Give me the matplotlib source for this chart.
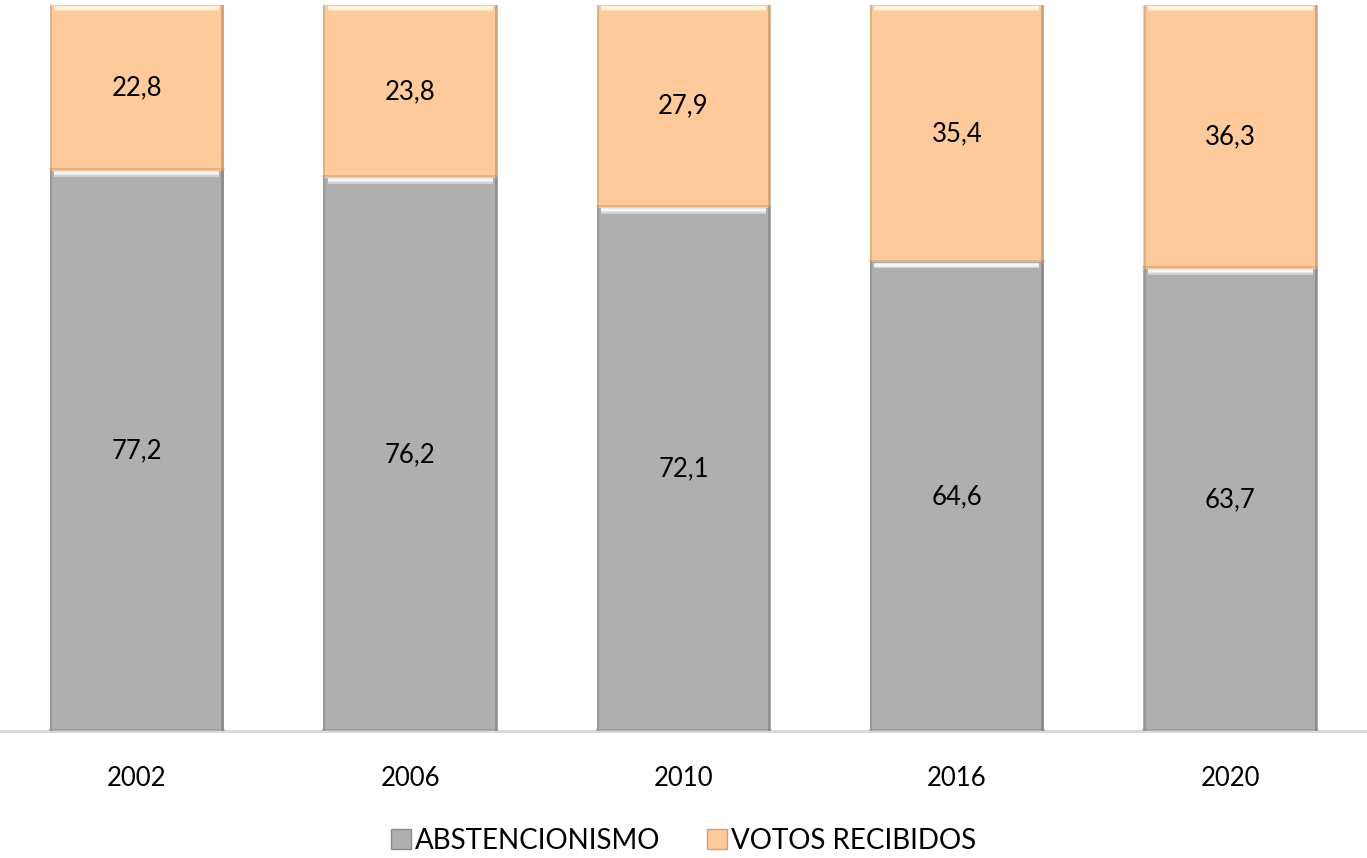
"""
Participación electoral: abstencionismo vs votos recibidos (barras apiladas al 100 %).
"""

import numpy as np
import matplotlib.pyplot as plt
from matplotlib.patches import Patch

# Datos
years = ["2002", "2006", "2010", "2016", "2020"]
abstencionismo = [77.2, 76.2, 72.1, 64.6, 63.7]
votos_recibidos = [22.8, 23.8, 27.9, 35.4, 36.3]

series_names = ["ABSTENCIONISMO", "VOTOS RECIBIDOS"]

GRAY = "#AFAFAF"
ORANGE = "#FEC99B"

plt.rcParams["font.family"] = ["Lato", "DejaVu Sans"]

fig = plt.figure(figsize=(13.67, 8.58), dpi=100)
ax = fig.add_axes([0.0, 1 - 731 / 858, 1.0, 726 / 858])

x = np.arange(len(years))
width = 0.635

bars_a = ax.bar(x, abstencionismo, width, color=GRAY, edgecolor="none", zorder=2)
bars_v = ax.bar(x, votos_recibidos, width, bottom=abstencionismo,
                color=ORANGE, edgecolor="none", zorder=2)


def bevel(bars, light, dark):
    # Imitación del bisel de Excel: brillo arriba, sombra a los lados y abajo
    for b in bars:
        x0, x1 = b.get_x(), b.get_x() + b.get_width()
        y0, y1 = b.get_y(), b.get_y() + b.get_height()
        inset = b.get_width() * 0.025
        ax.plot([x0 + inset, x1 - inset], [y1 - 0.35, y1 - 0.35],
                color=light, lw=2.6, solid_capstyle="butt", zorder=3)
        ax.plot([x0 + inset, x1 - inset], [y1 - 0.75, y1 - 0.75],
                color=light, lw=1.4, alpha=0.5, solid_capstyle="butt", zorder=3)
        ax.plot([x0 + 0.004, x0 + 0.004], [y0, y1], color=dark, lw=1.4,
                alpha=0.45, zorder=3)
        ax.plot([x1 - 0.005, x1 - 0.005], [y0, y1], color=dark, lw=2.0,
                alpha=0.7, zorder=3)
        ax.plot([x0, x1], [y0 + 0.2, y0 + 0.2], color=dark, lw=1.2,
                alpha=0.5, zorder=3)


bevel(bars_a, "#F6F6F6", "#7E7E7E")
bevel(bars_v, "#FFF5DC", "#B89372")

# Etiquetas de datos (coma decimal)
for xi, a, v in zip(x, abstencionismo, votos_recibidos):
    ax.text(xi, a / 2, f"{a:.1f}".replace(".", ","), ha="center", va="center",
            fontsize=18.5, color="black", zorder=4)
    ax.text(xi, a + v / 2, f"{v:.1f}".replace(".", ","), ha="center", va="center",
            fontsize=18.5, color="black", zorder=4)

ax.set_xlim(-0.5, len(years) - 0.5)
ax.set_ylim(0, 100)
ax.set_xticks(x)
ax.set_xticklabels(years, fontsize=18.5)
ax.tick_params(axis="x", length=0, pad=25)
ax.set_yticks([])

for side in ["left", "right", "top"]:
    ax.spines[side].set_visible(False)
ax.spines["bottom"].set_color("#D9D9D9")
ax.spines["bottom"].set_linewidth(2.2)
ax.set_facecolor("none")

handles = [
    Patch(facecolor=GRAY, edgecolor="#8A8A8A", linewidth=1.0),
    Patch(facecolor=ORANGE, edgecolor="#C9A27F", linewidth=1.0),
]
fig.legend(
    handles, series_names,
    loc="center", bbox_to_anchor=(0.5, 1 - 841 / 858),
    ncol=2, frameon=False, fontsize=20,
    handlelength=0.72, handleheight=0.72, handletextpad=0.12,
    columnspacing=1.7,
)

fig.savefig("out.png", dpi=100)
